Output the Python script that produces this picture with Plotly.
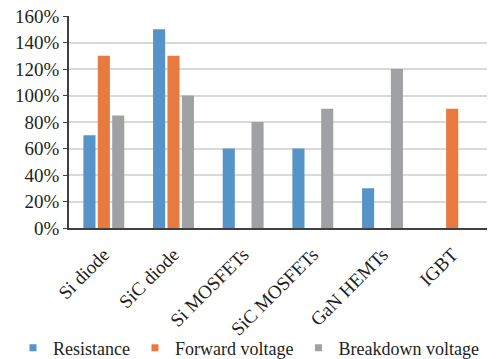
import plotly.graph_objects as go

categories = ["Si diode", "SiC diode", "Si MOSFETs", "SiC MOSFETs", "GaN HEMTs", "IGBT"]
resistance = [70, 150, 60, 60, 30, None]
forward_voltage = [130, 130, None, None, None, 90]
breakdown_voltage = [85, 100, 80, 90, 120, None]
y_ticks = [0, 20, 40, 60, 80, 100, 120, 140, 160]
y_tick_labels = [f"{v}%" for v in y_ticks]

font_family = "Liberation Serif"
series = [
    ("Resistance", resistance, "#5593c9"),
    ("Forward voltage", forward_voltage, "#e87a40"),
    ("Breakdown voltage", breakdown_voltage, "#a0a1a5"),
]

fig = go.Figure()
for name, vals, color in series:
    fig.add_trace(go.Bar(
        x=categories, y=vals, name=name, legendgroup=name, showlegend=False,
        marker=dict(color=color, line=dict(width=0)),
    ))
# small square legend keys
for name, vals, color in series:
    fig.add_trace(go.Scatter(
        x=[None], y=[None], mode="markers", name=name, legendgroup=name,
        marker=dict(symbol="square", size=7, color=color),
    ))

fig.update_layout(
    width=504,
    height=359,
    margin=dict(l=69, r=17, t=16, b=131, autoexpand=False),
    paper_bgcolor="white",
    plot_bgcolor="white",
    barmode="group",
    bargap=0.38,
    bargroupgap=0.16,
    font=dict(family=font_family, size=19, color="#231f20"),
    legend=dict(
        orientation="h",
        x=-0.134,
        xanchor="left",
        y=-0.566,
        yanchor="middle",
        font=dict(family=font_family, size=18),
        bgcolor="rgba(0,0,0,0)",
        itemwidth=30,
        tracegroupgap=0,
    ),
    showlegend=True,
)
fig.update_xaxes(
    tickangle=-45,
    tickfont=dict(family=font_family, size=19),
    showline=True,
    linecolor="#404040",
    linewidth=2,
    ticks="outside",
    ticklen=6,
    tickcolor="rgba(0,0,0,0)",
    showgrid=False,
    automargin=False,
)
fig.update_yaxes(
    range=[0, 160],
    tickvals=y_ticks,
    ticktext=y_tick_labels,
    tickfont=dict(family=font_family, size=19),
    showgrid=True,
    gridcolor="#d9d9d9",
    gridwidth=1.5,
    showline=True,
    linecolor="#404040",
    linewidth=1.5,
    ticks="outside",
    ticklen=4,
    tickcolor="#404040",
    zeroline=False,
    automargin=False,
)

fig.write_html("out.html")
